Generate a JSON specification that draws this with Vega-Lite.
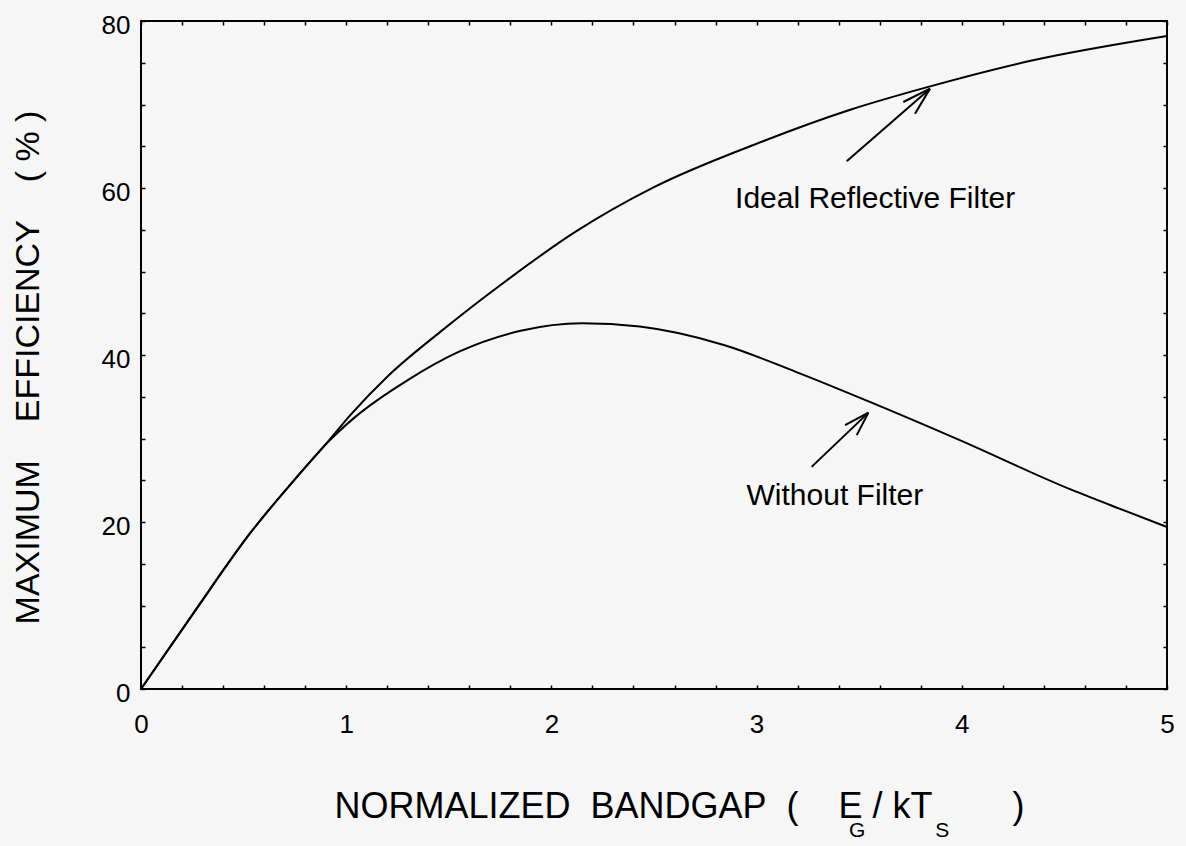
{
  "$schema": "https://vega.github.io/schema/vega-lite/v6.json",
  "width": 1026,
  "height": 668,
  "autosize": {"type": "none"},
  "padding": {"left": 141, "top": 21, "right": 19, "bottom": 157},
  "background": "#f6f6f6",
  "config": {
    "view": {"stroke": "black", "strokeWidth": 2},
    "font": "Liberation Sans",
    "axis": {
      "grid": false,
      "domain": false,
      "tickColor": "black",
      "tickWidth": 1.5,
      "tickSize": -4,
      "labelColor": "black",
      "titleColor": "black",
      "labelFont": "Liberation Sans",
      "titleFont": "Liberation Sans",
      "titleFontWeight": "normal",
      "labelFontSize": 26,
      "titleFontSize": 34
    }
  },
  "datasets": {
    "curves": [
      {"series": "Ideal Reflective Filter", "x": 0, "y": 0},
      {"series": "Ideal Reflective Filter", "x": 0.27, "y": 9.6},
      {"series": "Ideal Reflective Filter", "x": 0.53, "y": 18.6},
      {"series": "Ideal Reflective Filter", "x": 0.76, "y": 25.4},
      {"series": "Ideal Reflective Filter", "x": 0.9, "y": 29.3},
      {"series": "Ideal Reflective Filter", "x": 1.02, "y": 32.8},
      {"series": "Ideal Reflective Filter", "x": 1.2, "y": 37.4},
      {"series": "Ideal Reflective Filter", "x": 1.46, "y": 42.8},
      {"series": "Ideal Reflective Filter", "x": 1.78, "y": 48.9},
      {"series": "Ideal Reflective Filter", "x": 2.12, "y": 54.8},
      {"series": "Ideal Reflective Filter", "x": 2.5, "y": 60.1},
      {"series": "Ideal Reflective Filter", "x": 3.0, "y": 65.3},
      {"series": "Ideal Reflective Filter", "x": 3.46, "y": 69.4},
      {"series": "Ideal Reflective Filter", "x": 3.85, "y": 72.2},
      {"series": "Ideal Reflective Filter", "x": 4.33, "y": 75.2},
      {"series": "Ideal Reflective Filter", "x": 5.0, "y": 78.2},
      {"series": "Without Filter", "x": 0, "y": 0},
      {"series": "Without Filter", "x": 0.27, "y": 9.6},
      {"series": "Without Filter", "x": 0.53, "y": 18.6},
      {"series": "Without Filter", "x": 0.76, "y": 25.4},
      {"series": "Without Filter", "x": 0.9, "y": 29.3},
      {"series": "Without Filter", "x": 1.04, "y": 32.5},
      {"series": "Without Filter", "x": 1.3, "y": 37.0},
      {"series": "Without Filter", "x": 1.55, "y": 40.4},
      {"series": "Without Filter", "x": 1.85, "y": 42.9},
      {"series": "Without Filter", "x": 2.15, "y": 43.8},
      {"series": "Without Filter", "x": 2.43, "y": 43.4},
      {"series": "Without Filter", "x": 2.84, "y": 41.2},
      {"series": "Without Filter", "x": 3.21, "y": 37.8},
      {"series": "Without Filter", "x": 3.54, "y": 34.5},
      {"series": "Without Filter", "x": 3.99, "y": 29.8},
      {"series": "Without Filter", "x": 4.53, "y": 23.9},
      {"series": "Without Filter", "x": 4.8, "y": 21.3},
      {"series": "Without Filter", "x": 5.0, "y": 19.4}
    ],
    "arrows": [
      {"x": 3.439, "y": 63.2, "x2": 3.845, "y2": 71.9},
      {"x": 3.845, "y": 71.9, "x2": 3.715, "y2": 70.3},
      {"x": 3.845, "y": 71.9, "x2": 3.772, "y2": 68.9},
      {"x": 3.268, "y": 26.6, "x2": 3.545, "y2": 33.1},
      {"x": 3.545, "y": 33.1, "x2": 3.431, "y2": 31.6},
      {"x": 3.545, "y": 33.1, "x2": 3.488, "y2": 30.4}
    ],
    "notes": [
      {"label": "Ideal Reflective Filter", "x": 2.895, "y": 57.6},
      {"label": "Without Filter", "x": 2.951, "y": 22.0}
    ],
    "subs": [
      {"label": "G", "x": 3.49, "y": -17.7},
      {"label": "S", "x": 3.905, "y": -17.7}
    ]
  },
  "layer": [
    {
      "data": {"name": "curves"},
      "mark": {"type": "line", "color": "black", "strokeWidth": 2, "interpolate": "monotone"},
      "encoding": {
        "x": {
          "field": "x", "type": "quantitative",
          "scale": {"domain": [0, 5], "nice": false, "zero": false},
          "axis": {
            "orient": "bottom",
            "values": [0, 0.2, 0.4, 0.6, 0.8, 1, 1.2, 1.4, 1.6, 1.8, 2, 2.2, 2.4, 2.6, 2.8, 3, 3.2, 3.4, 3.6, 3.8, 4, 4.2, 4.4, 4.6, 4.8, 5],
            "labelExpr": "datum.value % 1 == 0 ? format(datum.value, 'd') : ''",
            "labelPadding": 26,
            "labelFlush": false,
            "labelOverlap": false,
            "title": "NORMALIZED\u00a0\u00a0BANDGAP\u00a0\u00a0(\u00a0\u00a0\u00a0\u00a0E\u00a0/\u00a0kT\u00a0\u00a0\u00a0\u00a0\u00a0\u00a0\u00a0\u00a0)",
            "titleFontSize": 36,
            "titleAlign": "left",
            "titleAnchor": "start",
            "titleX": 193,
            "titleY": 128,
            "titleBaseline": "alphabetic"
          }
        },
        "y": {
          "field": "y", "type": "quantitative",
          "scale": {"domain": [0, 80], "nice": false},
          "axis": {
            "orient": "left",
            "values": [0, 5, 10, 15, 20, 25, 30, 35, 40, 45, 50, 55, 60, 65, 70, 75, 80],
            "labelExpr": "datum.value % 20 == 0 ? format(datum.value, 'd') : ''",
            "labelPadding": 15,
            "labelOffset": 4,
            "labelFlush": false,
            "labelOverlap": false,
            "title": "MAXIMUM\u00a0\u00a0\u00a0\u00a0EFFICIENCY\u00a0\u00a0\u00a0\u00a0(\u00a0%\u00a0)",
            "titleAngle": -90,
            "titleAlign": "center",
            "titleX": -103,
            "titleY": 346,
            "titleBaseline": "alphabetic"
          }
        },
        "detail": {"field": "series"}
      }
    },
    {
      "data": {"name": "arrows"},
      "mark": {"type": "rule", "color": "black", "strokeWidth": 2},
      "encoding": {
        "x": {
          "field": "x", "type": "quantitative",
          "axis": {
            "orient": "top",
            "values": [0, 0.2, 0.4, 0.6, 0.8, 1, 1.2, 1.4, 1.6, 1.8, 2, 2.2, 2.4, 2.6, 2.8, 3, 3.2, 3.4, 3.6, 3.8, 4, 4.2, 4.4, 4.6, 4.8, 5],
            "labels": false,
            "title": null
          }
        },
        "y": {
          "field": "y", "type": "quantitative",
          "axis": {
            "orient": "right",
            "values": [0, 5, 10, 15, 20, 25, 30, 35, 40, 45, 50, 55, 60, 65, 70, 75, 80],
            "labels": false,
            "title": null
          }
        },
        "x2": {"field": "x2"},
        "y2": {"field": "y2"}
      }
    },
    {
      "data": {"name": "notes"},
      "mark": {"type": "text", "align": "left", "baseline": "alphabetic", "fontSize": 30, "font": "Liberation Sans", "color": "black"},
      "encoding": {
        "x": {"field": "x", "type": "quantitative", "axis": null},
        "y": {"field": "y", "type": "quantitative", "axis": null},
        "text": {"field": "label"}
      }
    },
    {
      "data": {"name": "subs"},
      "mark": {"type": "text", "align": "center", "baseline": "alphabetic", "fontSize": 21, "font": "Liberation Sans", "color": "black", "clip": false},
      "encoding": {
        "x": {"field": "x", "type": "quantitative", "axis": null},
        "y": {"field": "y", "type": "quantitative", "axis": null},
        "text": {"field": "label"}
      }
    }
  ],
  "resolve": {"axis": {"x": "independent", "y": "independent"}}
}
